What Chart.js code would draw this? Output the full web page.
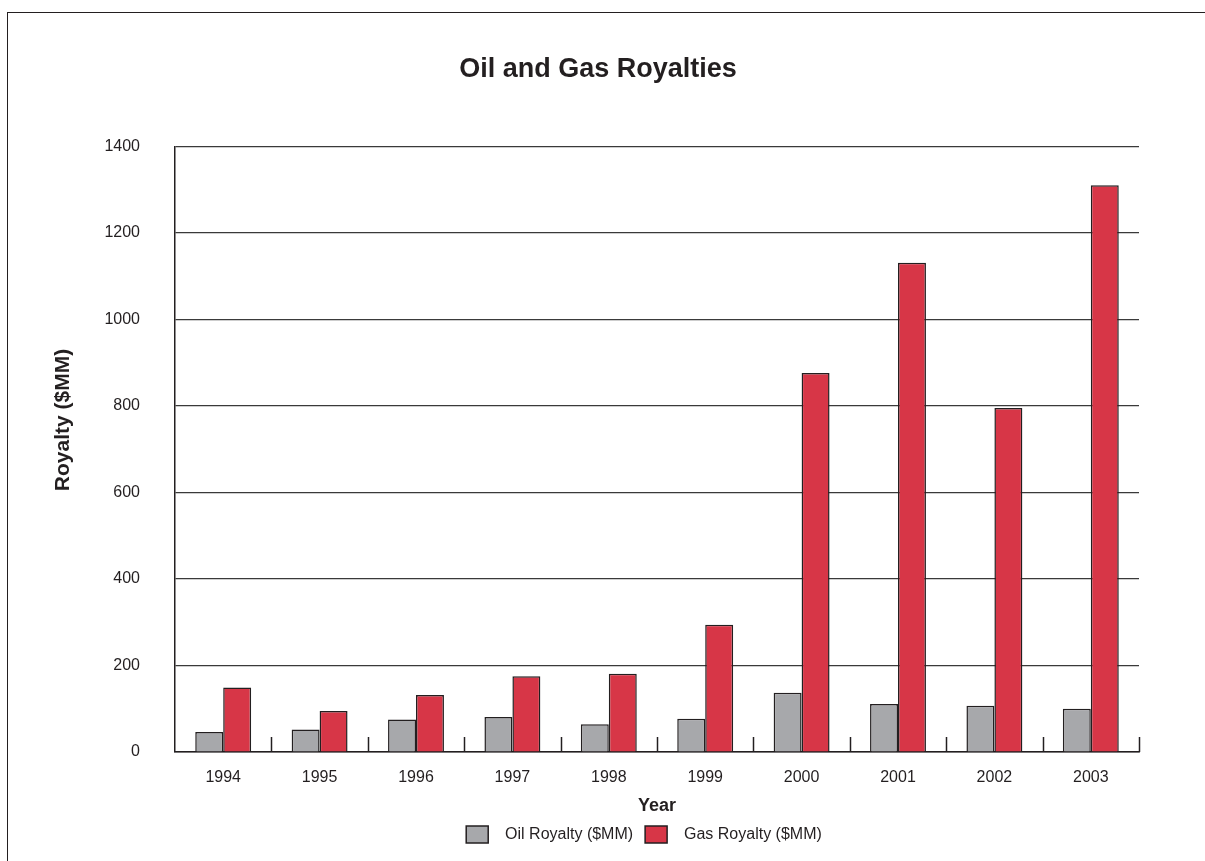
<!DOCTYPE html>
<html>
<head>
<meta charset="utf-8">
<script src="https://cdn.jsdelivr.net/npm/chart.js@4.4.0/dist/chart.umd.min.js"></script>
<style>
  html, body { margin: 0; padding: 0; background: #fff; overflow: hidden; }
  #wrap { position: relative; width: 1205px; height: 861px; }
  #frame { position: absolute; left: 7px; top: 12px; width: 1300px; height: 900px;
           border-left: 1px solid #231f20; border-top: 1px solid #231f20; pointer-events: none; }
  canvas { position: absolute; left: 0; top: 0; }
</style>
</head>
<body>
<div id="wrap">
  <canvas id="chart" width="1205" height="861"></canvas>
  <div id="frame"></div>
</div>
<script>
  // ── Data ──
  const years = ['1994', '1995', '1996', '1997', '1998', '1999', '2000', '2001', '2002', '2003'];
  const oilRoyalty = [46, 52, 75, 81, 64, 77, 137, 111, 107, 100];
  const gasRoyalty = [149, 95, 132, 175, 181, 294, 876, 1131, 795, 1310];
  const yTicks = [0, 200, 400, 600, 800, 1000, 1200, 1400];

  const INK = '#231f20';
  const FONT = '"Liberation Sans", Arial, sans-serif';

  // Upward tick marks at category boundaries along the baseline
  const boundaryTicks = {
    id: 'boundaryTicks',
    afterDatasetsDraw(chart) {
      const x = chart.scales.x;
      const { ctx, chartArea } = chart;
      ctx.save();
      ctx.strokeStyle = INK;
      ctx.lineWidth = 1.5;
      for (let i = 0; i < years.length; i++) {
        const px = i < years.length - 1
          ? (x.getPixelForValue(i) + x.getPixelForValue(i + 1)) / 2
          : x.right;
        ctx.beginPath();
        ctx.moveTo(Math.round(px) + 0.5, chartArea.bottom);
        ctx.lineTo(Math.round(px) + 0.5, chartArea.bottom - 15);
        ctx.stroke();
      }
      ctx.restore();
    }
  };

  // legend sits a little right of centre in the original
  const legendShift = {
    id: 'legendShift',
    afterLayout(chart) {
      chart.legend.left += 46;
      chart.legend.right += 46;
    }
  };

  new Chart(document.getElementById('chart'), {
    type: 'bar',
    data: {
      labels: years,
      datasets: [
        { label: '  Oil Royalty ($MM)', data: oilRoyalty, backgroundColor: '#a7a8ab', borderColor: INK, borderWidth: 1.5 },
        { label: '  Gas Royalty ($MM)', data: gasRoyalty, backgroundColor: '#d73647', borderColor: INK, borderWidth: 1.5 },
      ]
    },
    options: {
      responsive: false,
      animation: false,
      events: [],
      layout: { padding: { left: 57, right: 66, top: 0, bottom: 8 } },
      datasets: { bar: { categoryPercentage: 0.58, barPercentage: 1.0 } },
      plugins: {
        title: {
          display: true,
          text: 'Oil and Gas Royalties',
          color: INK,
          font: { family: FONT, size: 27, weight: 'bold' },
          padding: { top: 53, bottom: 61 }
        },
        legend: {
          position: 'bottom',
          labels: {
            color: INK,
            font: { family: FONT, size: 16 },
            boxWidth: 22,
            boxHeight: 17,
            padding: 12
          }
        },
        tooltip: { enabled: false }
      },
      scales: {
        x: {
          afterFit: s => { s.height = 62; },
          grid: { display: false, drawTicks: false },
          border: { display: true, color: INK, width: 1.5 },
          ticks: { color: INK, font: { family: FONT, size: 16 }, padding: 16 },
          title: { display: true, text: 'Year', color: INK, font: { family: FONT, size: 18, weight: 'bold' }, padding: { top: 0, bottom: -3 } }
        },
        y: {
          min: 0,
          max: 1400,
          afterBuildTicks: s => { s.ticks = yTicks.map(v => ({ value: v })); },
          afterFit: s => { s.width = 118; },
          grid: { color: '#3a3a3a', lineWidth: 1.2, drawTicks: false },
          border: { display: true, color: INK, width: 1.5 },
          ticks: { color: INK, font: { family: FONT, size: 16 }, padding: 35, callback: v => String(v) },
          title: { display: true, text: ' '.repeat(10) + 'Royalty ($MM)', color: INK, font: { family: FONT, size: 21, weight: 'bold' }, padding: { top: -6, bottom: 0 } }
        }
      }
    },
    plugins: [boundaryTicks, legendShift]
  });
</script>
</body>
</html>
